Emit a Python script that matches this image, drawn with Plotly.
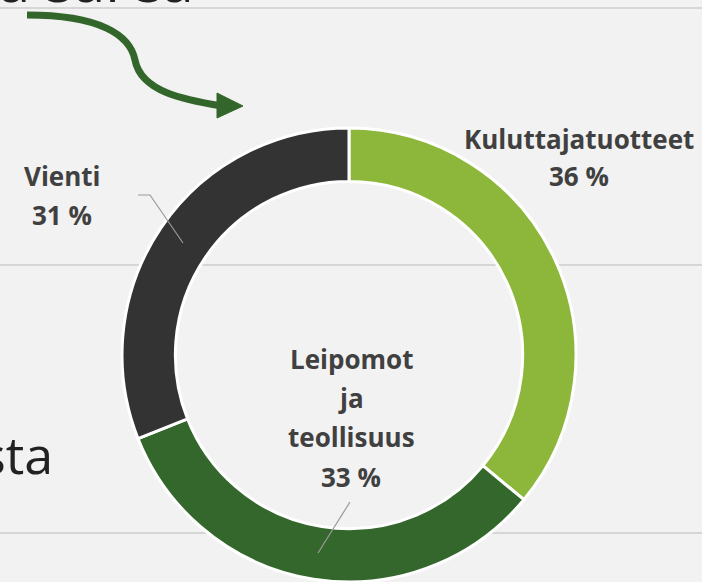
import plotly.graph_objects as go

W, H = 702, 582

# Data
categories = ["Kuluttajatuotteet", "Leipomot ja teollisuus", "Vienti"]
shares = [36, 33, 31]
slice_colors = ["#8DB73A", "#34672B", "#333333"]

# label line texts (split for the slide layout)
label_lines = {
    "Kuluttajatuotteet": ["Kuluttajatuotteet"],
    "Leipomot ja teollisuus": ["Leipomot", "ja", "teollisuus"],
    "Vienti": ["Vienti"],
}

def px(x):
    return x / W

def py(y):
    return 1 - y / H

fig = go.Figure()

fig.add_trace(go.Pie(
    labels=categories,
    values=shares,
    sort=False,
    direction="clockwise",
    rotation=0,
    hole=0.765,
    marker=dict(colors=slice_colors, line=dict(color="white", width=3)),
    textinfo="none",
    hoverinfo="label+percent",
    showlegend=False,
    domain=dict(x=[px(349 - 227), px(349 + 227)], y=[0, 0.78]),
))

lbl_font = dict(family="Open Sans", size=26, color="#404040")
# label anchor positions (style, pixel centres of each line)
label_pos = {
    "Kuluttajatuotteet": (579, [138.5, 176]),
    "Leipomot ja teollisuus": (351, [359, 398, 437, 477]),
    "Vienti": (62, [176, 215]),
}
annotations = []
for cat, val in zip(categories, shares):
    lines = label_lines[cat] + [f"{val} %"]
    cx, ys = label_pos[cat]
    for t, yy in zip(lines, ys):
        annotations.append(dict(
            x=px(cx), y=py(yy), xref="paper", yref="paper",
            text=f"<b>{t}</b>", showarrow=False, font=lbl_font,
            xanchor="center", yanchor="middle",
        ))

# slide text fragments (cut by the slide crop, as in the original)
annotations.append(dict(
    x=px(-4), y=1, xref="paper", yref="paper", text="a sarea",
    showarrow=False, xanchor="left", yanchor="bottom", yshift=-21,
    font=dict(family="Open Sans", size=58, color="#222222"),
))
annotations.append(dict(
    x=px(55), y=py(453), xref="paper", yref="paper", text="sta",
    showarrow=False, xanchor="right", yanchor="middle",
    font=dict(family="Open Sans", size=52, color="#222222"),
))

shapes = []
# wood plank seams
for yy in [8, 265, 533]:
    shapes.append(dict(type="line", xref="paper", yref="paper",
                       x0=0, x1=1, y0=py(yy), y1=py(yy),
                       line=dict(color="#d6d6d6", width=2), layer="below"))

# curved arrow
arrow_path = (f"M {px(27)},{py(15)} C {px(100)},{py(15)} {px(130)},{py(35)} {px(135)},{py(60)} "
              f"C {px(141)},{py(92)} {px(185)},{py(100)} {px(222)},{py(106)}")
shapes.append(dict(type="path", xref="paper", yref="paper", path=arrow_path,
                   line=dict(color="#33662A", width=7)))
head = (f"M {px(217)},{py(93)} L {px(243)},{py(106)} L {px(217)},{py(118)} Z")
shapes.append(dict(type="path", xref="paper", yref="paper", path=head,
                   fillcolor="#33662A", line=dict(color="#33662A", width=1)))

# leader lines
shapes.append(dict(type="path", xref="paper", yref="paper",
                   path=f"M {px(138)},{py(195)} L {px(150)},{py(195)} L {px(183)},{py(243)}",
                   line=dict(color="#9a9a9a", width=1.2)))
shapes.append(dict(type="line", xref="paper", yref="paper",
                   x0=px(350), y0=py(502), x1=px(318), y1=py(553),
                   line=dict(color="#9a9a9a", width=1.2)))

fig.update_layout(
    width=W, height=H,
    margin=dict(l=0, r=0, t=0, b=0),
    paper_bgcolor="#f2f2f2",
    plot_bgcolor="#f2f2f2",
    annotations=annotations,
    shapes=shapes,
    showlegend=False,
)

fig.write_html("out.html", config={"displayModeBar": False},
               post_script="document.body.style.margin='0';document.body.style.overflow='hidden';")
